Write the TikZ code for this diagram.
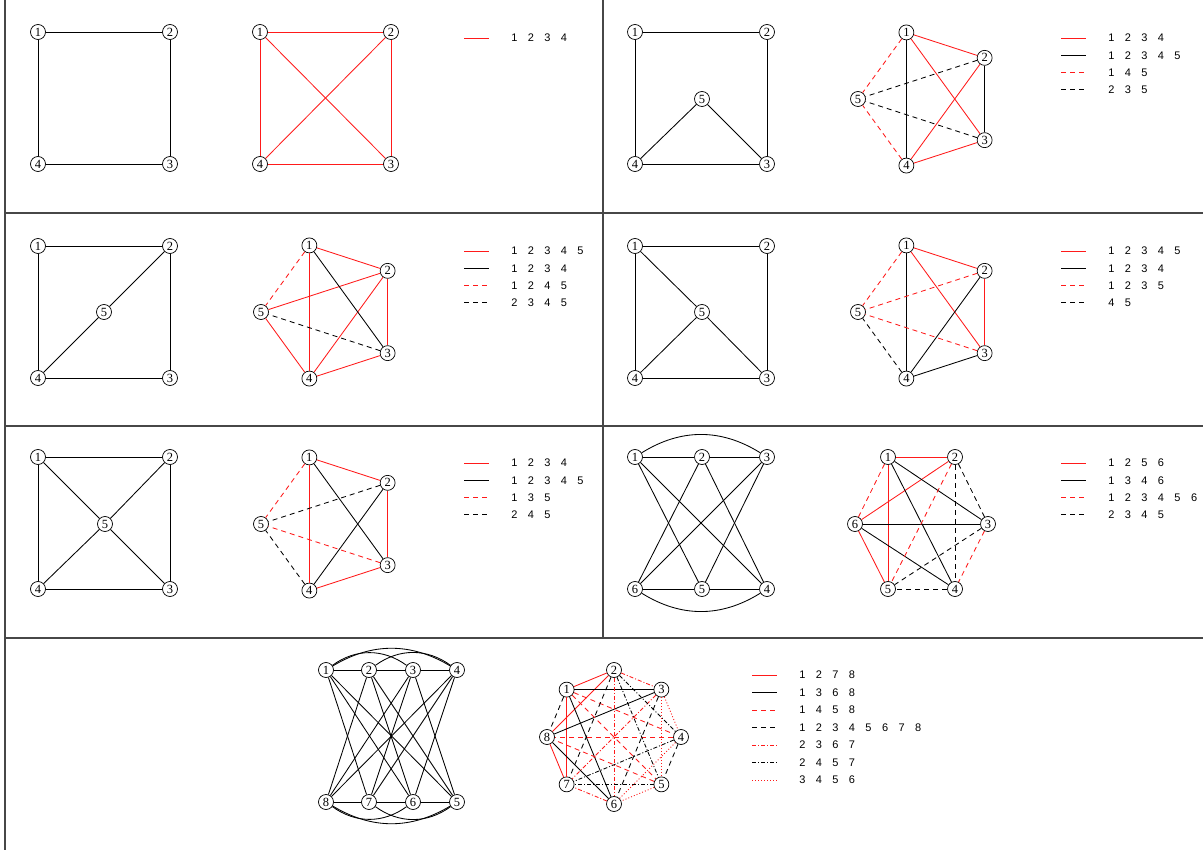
\documentclass[tikz,border=0pt]{standalone}
\usepackage{fontspec}
\setmainfont{Liberation Serif}
\setsansfont{Liberation Sans}
\usetikzlibrary{calc}
\definecolor{gdInk}{HTML}{000000}
\definecolor{gdRed}{HTML}{FF1A1A}
\definecolor{gdFrame}{HTML}{474747}
\newcommand\gdkeyfont{\sffamily\fontsize{11}{13}\selectfont\setlength{\spaceskip}{10.4pt}}
\tikzset{
  gd vertex/.style={circle, draw=gdInk, fill=white, line width=.7pt,
    minimum size=15pt, inner sep=0pt, font=\fontsize{12.5}{12.5}\selectfont},
  gd black/.style={draw=gdInk, line width=.85pt},
  gd red/.style={draw=gdRed, line width=.85pt},
  gd black dashed/.style={gd black, dash pattern=on 5pt off 4pt},
  gd red dashed/.style={gd red, dash pattern=on 5pt off 4pt},
  gd black dashdot/.style={gd black, dash pattern=on 4pt off 2pt on 1pt off 2pt},
  gd red dashdot/.style={gd red, dash pattern=on 4pt off 2pt on 1pt off 2pt},
  gd red dotted/.style={gd red, dash pattern=on 1pt off 2pt},
  gd frame/.style={draw=gdFrame, line width=1.2pt},
  gd key/.style={anchor=west, inner sep=0pt, xshift=22pt, font=\gdkeyfont}
}

\begin{document}
\begin{tikzpicture}[x=1pt,y=-1pt]
  \useasboundingbox (0,0) rectangle (1203,850);
  % frame
  \draw[gd frame] (5,0) -- (5,850);
  \draw[gd frame] (603,0) -- (603,638);
  \foreach \r in {213,426,638} \draw[gd frame] (5,\r) -- (1203,\r);

  % row 1, left
  \begin{scope}[shift={(0,0)}]
    \foreach \i/\x/\y in {1/38/32,2/170/32,3/170/164,4/38/164}
      \node[gd vertex] (Al\i) at (\x,\y) {\i};
    \foreach \i/\x/\y in {1/260/32,2/391/32,3/391/164,4/260/164}
      \node[gd vertex] (Ar\i) at (\x,\y) {\i};
    \foreach \u/\v in {1/2,2/3,3/4,4/1} \draw[gd black] (Al\u) -- (Al\v);
    \foreach \u/\v in {1/2,1/3,1/4,2/3,2/4,3/4} \draw[gd red] (Ar\u) -- (Ar\v);
    \draw[gd red] (464,38) -- ++(25,0) node[gd key] (Akey0) {1 2 3 4};
  \end{scope}

  % row 1, right
  \begin{scope}[shift={(597,0)}]
    \foreach \i/\x/\y in {1/38/32,2/170/32,3/170/164,4/38/164,5/105/99}
      \node[gd vertex] (Bl\i) at (\x,\y) {\i};
    \foreach \i/\a in {1/108,2/36,3/-36,4/-108,5/180}
      \node[gd vertex] (Br\i) at ({331+70*cos(\a)},{99-70*sin(\a)}) {\i};
    \foreach \u/\v in {1/2,2/3,3/4,4/1,5/3,5/4} \draw[gd black] (Bl\u) -- (Bl\v);
    \foreach \u/\v in {1/2,1/3,2/4,3/4} \draw[gd red] (Br\u) -- (Br\v);
    \foreach \u/\v in {1/4,2/3} \draw[gd black] (Br\u) -- (Br\v);
    \foreach \u/\v in {1/5,4/5} \draw[gd red dashed] (Br\u) -- (Br\v);
    \foreach \u/\v in {2/5,3/5} \draw[gd black dashed] (Br\u) -- (Br\v);
    \foreach \s/\t [count=\k from 0] in {gd red/1 2 3 4, gd black/1 2 3 4 5,
        gd red dashed/1 4 5, gd black dashed/2 3 5}
      \draw[\s] (464,{38+17.3*\k}) -- ++(25,0) node[gd key] (Bkey\k) {\t};
  \end{scope}

  % row 2, left
  \begin{scope}[shift={(0,213)}]
    \foreach \i/\x/\y in {1/38/33,2/170/33,3/170/165,4/38/165,5/104/99}
      \node[gd vertex] (Cl\i) at (\x,\y) {\i};
    \foreach \i/\a in {1/108,2/36,3/-36,4/-108,5/180}
      \node[gd vertex] (Cr\i) at ({331+70*cos(\a)},{99-70*sin(\a)}) {\i};
    \foreach \u/\v in {1/2,2/3,3/4,4/1,2/5,5/4} \draw[gd black] (Cl\u) -- (Cl\v);
    \foreach \u/\v in {1/2,1/4,2/3,2/4,2/5,3/4,4/5} \draw[gd red] (Cr\u) -- (Cr\v);
    \draw[gd black] (Cr1) -- (Cr3);
    \draw[gd red dashed] (Cr1) -- (Cr5);
    \draw[gd black dashed] (Cr3) -- (Cr5);
    \foreach \s/\t [count=\k from 0] in {gd red/1 2 3 4 5, gd black/1 2 3 4,
        gd red dashed/1 2 4 5, gd black dashed/2 3 4 5}
      \draw[\s] (464,{38+17.3*\k}) -- ++(25,0) node[gd key] (Ckey\k) {\t};
  \end{scope}

  % row 2, right
  \begin{scope}[shift={(597,213)}]
    \foreach \i/\x/\y in {1/38/33,2/170/33,3/170/165,4/38/165,5/105/99}
      \node[gd vertex] (Dl\i) at (\x,\y) {\i};
    \foreach \i/\a in {1/108,2/36,3/-36,4/-108,5/180}
      \node[gd vertex] (Dr\i) at ({331+70*cos(\a)},{99-70*sin(\a)}) {\i};
    \foreach \u/\v in {1/2,2/3,3/4,4/1,1/5,5/3,5/4} \draw[gd black] (Dl\u) -- (Dl\v);
    \foreach \u/\v in {1/2,1/3,2/3} \draw[gd red] (Dr\u) -- (Dr\v);
    \foreach \u/\v in {1/4,2/4,3/4} \draw[gd black] (Dr\u) -- (Dr\v);
    \foreach \u/\v in {1/5,2/5,3/5} \draw[gd red dashed] (Dr\u) -- (Dr\v);
    \draw[gd black dashed] (Dr4) -- (Dr5);
    \foreach \s/\t [count=\k from 0] in {gd red/1 2 3 4 5, gd black/1 2 3 4,
        gd red dashed/1 2 3 5, gd black dashed/4 5}
      \draw[\s] (464,{38+17.3*\k}) -- ++(25,0) node[gd key] (Dkey\k) {\t};
  \end{scope}

  % row 3, left
  \begin{scope}[shift={(0,425)}]
    \foreach \i/\x/\y in {1/38/32,2/170/32,3/170/164,4/38/164,5/105/99}
      \node[gd vertex] (El\i) at (\x,\y) {\i};
    \foreach \i/\a in {1/108,2/36,3/-36,4/-108,5/180}
      \node[gd vertex] (Er\i) at ({331+70*cos(\a)},{99-70*sin(\a)}) {\i};
    \foreach \u/\v in {1/2,2/3,3/4,4/1,1/5,2/5,3/5,4/5} \draw[gd black] (El\u) -- (El\v);
    \foreach \u/\v in {1/2,1/4,2/3,3/4} \draw[gd red] (Er\u) -- (Er\v);
    \foreach \u/\v in {1/3,2/4} \draw[gd black] (Er\u) -- (Er\v);
    \foreach \u/\v in {1/5,3/5} \draw[gd red dashed] (Er\u) -- (Er\v);
    \foreach \u/\v in {2/5,4/5} \draw[gd black dashed] (Er\u) -- (Er\v);
    \foreach \s/\t [count=\k from 0] in {gd red/1 2 3 4, gd black/1 2 3 4 5,
        gd red dashed/1 3 5, gd black dashed/2 4 5}
      \draw[\s] (464,{38+17.3*\k}) -- ++(25,0) node[gd key] (Ekey\k) {\t};
  \end{scope}

  % row 3, right
  \begin{scope}[shift={(597,425)}]
    \foreach \i/\x/\y in {1/38/32,2/105/32,3/170/32,4/170/164,5/105/164,6/38/164}
      \node[gd vertex] (Fl\i) at (\x,\y) {\i};
    \foreach \i/\x/\y in {1/291/32,2/358/32,3/391/99,4/358/164,5/291/164,6/258/99}
      \node[gd vertex] (Fr\i) at (\x,\y) {\i};
    \foreach \u/\v in {1/2,2/3,6/5,5/4,1/5,1/4,2/6,2/4,3/6,3/5}
      \draw[gd black] (Fl\u) -- (Fl\v);
    \draw[gd black] (Fl1) to[bend left=32] (Fl3);
    \draw[gd black] (Fl6) to[bend right=32] (Fl4);
    \foreach \u/\v in {1/2,1/5,2/6,5/6} \draw[gd red] (Fr\u) -- (Fr\v);
    \foreach \u/\v in {1/3,1/4,3/6,4/6} \draw[gd black] (Fr\u) -- (Fr\v);
    \foreach \u/\v in {1/6,2/5,3/4} \draw[gd red dashed] (Fr\u) -- (Fr\v);
    \foreach \u/\v in {2/3,2/4,3/5,4/5} \draw[gd black dashed] (Fr\u) -- (Fr\v);
    \foreach \s/\t [count=\k from 0] in {gd red/1 2 5 6, gd black/1 3 4 6,
        gd red dashed/1 2 3 4 5 6, gd black dashed/2 3 4 5}
      \draw[\s] (464,{38+17.3*\k}) -- ++(25,0) node[gd key] (Fkey\k) {\t};
  \end{scope}

  % row 4
  \foreach \i/\x/\y in {1/326/670,2/369/670,3/413/670,4/457/670,
      5/457/802,6/413/802,7/369/802,8/326/802}
    \node[gd vertex] (Gl\i) at (\x,\y) {\i};
  \foreach \i/\a in {1/135,2/90,3/45,4/0,5/-45,6/-90,7/-135,8/180}
    \node[gd vertex] (Gr\i) at ({614+67*cos(\a)},{737-67*sin(\a)}) {\i};
  \foreach \u/\v in {1/2,2/3,3/4,8/7,7/6,6/5,1/5,1/6,1/7,2/8,2/6,2/5,
      3/8,3/7,3/5,4/8,4/7,4/6}
    \draw[gd black] (Gl\u) -- (Gl\v);
  \foreach \u/\v in {1/3,2/4} \draw[gd black] (Gl\u) to[bend left=36] (Gl\v);
  \draw[gd black] (Gl1) to[bend left=31] (Gl4);
  \foreach \u/\v in {8/6,7/5} \draw[gd black] (Gl\u) to[bend right=36] (Gl\v);
  \draw[gd black] (Gl8) to[bend right=31] (Gl5);
  \foreach \s/\e in {gd red/{1/2,1/7,2/8,7/8}, gd black/{1/3,1/6,3/8,6/8},
      gd red dashed/{1/4,1/5,4/8,5/8}, gd black dashed/{1/8,2/7,3/6,4/5},
      gd red dashdot/{2/3,2/6,3/7,6/7}, gd black dashdot/{2/4,2/5,4/7,5/7},
      gd red dotted/{3/4,3/5,4/6,5/6}}
    \foreach \u/\v in \e \draw[\s] (Gr\u) -- (Gr\v);
  \foreach \s/\t [count=\k from 0] in {gd red/1 2 7 8, gd black/1 3 6 8,
      gd red dashed/1 4 5 8, gd black dashed/1 2 3 4 5 6 7 8,
      gd red dashdot/2 3 6 7, gd black dashdot/2 4 5 7, gd red dotted/3 4 5 6}
    \draw[\s] (752,{675+17.5*\k}) -- ++(25,0) node[gd key] (Gkey\k) {\t};
\end{tikzpicture}
\end{document}
